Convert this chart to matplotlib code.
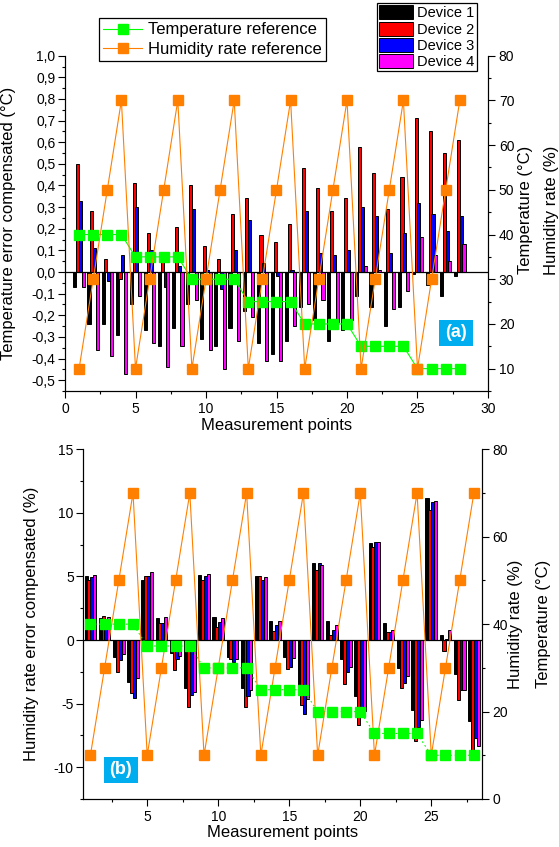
import numpy as np
import matplotlib
matplotlib.use("Agg")
import matplotlib.pyplot as plt
from matplotlib.patches import Rectangle, Patch
from matplotlib.lines import Line2D
from matplotlib.ticker import MultipleLocator, FuncFormatter

plt.rcParams['font.family'] = ['Liberation Sans', 'DejaVu Sans']

# measurement points 1..28
points = np.arange(1, 29)

temp_ref = [40, 40, 40, 40, 35, 35, 35, 35, 30, 30, 30, 30, 25, 25,
            25, 25, 20, 20, 20, 20, 15, 15, 15, 15, 10, 10, 10, 10]
hum_ref = [10, 30, 50, 70, 10, 30, 50, 70, 10, 30, 50, 70, 10, 30,
           50, 70, 10, 30, 50, 70, 10, 30, 50, 70, 10, 30, 50, 70]

# (a) temperature error compensated (degC)
dev1_a = [-0.07, -0.24, -0.24, -0.29, -0.15, -0.27, -0.34, -0.26, -0.15, -0.31,
          -0.34, -0.26, -0.18, -0.33, -0.38, -0.32, -0.16, -0.22, -0.32, -0.27,
          -0.11, -0.16, -0.25, -0.16, -0.01, -0.06, -0.11, -0.02]
dev2_a = [0.50, 0.28, 0.06, -0.03, 0.41, 0.18, 0.05, 0.21, 0.40, 0.12,
          0.06, 0.27, 0.34, 0.17, 0.14, 0.22, 0.48, 0.39, 0.28, 0.34,
          0.58, 0.46, 0.29, 0.44, 0.71, 0.65, 0.55, 0.61]
dev3_a = [0.33, 0.11, -0.04, 0.08, 0.30, 0.10, -0.07, 0.03, 0.29, 0.01,
          -0.08, 0.10, 0.24, 0.04, -0.02, 0.01, 0.28, 0.09, 0.08, 0.10,
          0.30, 0.26, 0.09, 0.18, 0.32, 0.27, 0.19, 0.26]
dev4_a = [-0.07, -0.36, -0.39, -0.47, -0.11, -0.33, -0.44, -0.34, -0.13, -0.36,
          -0.45, -0.32, -0.21, -0.41, -0.41, -0.25, -0.15, -0.13, -0.23, -0.22,
          0.03, 0.01, -0.17, -0.09, 0.16, 0.08, 0.05, 0.13]

# (b) humidity rate error compensated (%)
dev1_b = [5.0, 1.75, -1.3, -3.3, 4.7, 1.75, -1.0, -3.8, 5.1, 1.8,
          -1.3, -3.8, 5.05, 1.5, -1.3, -3.7, 6.05, 1.5, -1.5, -4.4,
          7.6, 1.35, -2.2, -5.5, 11.2, 0.4, -2.7, -6.35]
dev2_b = [4.7, 1.9, -2.5, -4.2, 5.05, 1.35, -2.35, -5.3, 4.7, 1.05,
          -1.5, -5.3, 5.0, 0.7, -2.3, -5.1, 5.5, 0.4, -3.45, -6.65,
          7.3, 0.6, -3.8, -7.9, 10.2, -0.85, -4.7, -8.7]
dev3_b = [4.95, 1.3, -1.6, -4.55, 5.05, 1.35, -1.5, -4.3, 5.05, 1.45,
          -1.7, -4.4, 4.75, 1.2, -2.1, -5.8, 6.05, 0.8, -2.5, -5.8,
          7.7, 0.65, -3.4, -6.8, 10.85, 0.05, -3.9, -7.7]
dev4_b = [5.1, 1.85, -1.1, -3.0, 5.35, 1.85, -1.25, -4.1, 5.2, 1.75,
          -1.5, -3.9, 4.95, 1.5, -1.4, -4.6, 5.9, 1.2, -2.1, -5.6,
          7.7, 0.8, -2.85, -6.3, 10.9, 0.8, -3.9, -8.3]

devices = ['Device 1', 'Device 2', 'Device 3', 'Device 4']
dev_colors = ['#000000', '#FF0000', '#0000FF', '#FF00FF']
green = '#00FF00'
orange = '#FF8000'
boxblue = '#00AEEF'

W, H = 559, 847
fig = plt.figure(figsize=(W / 100, H / 100), dpi=100)


def px_axes(l, r, t, b):
    return fig.add_axes([l / W, 1 - b / H, (r - l) / W, (b - t) / H])


def style_ticks(a):
    a.tick_params(which='major', direction='out', length=4.8, width=0.8,
                  labelsize=10, pad=2)
    a.tick_params(which='minor', direction='out', length=2.4, width=0.8)
    a.tick_params(axis='x', pad=3)


def draw_bars(a, series):
    offs = [-0.3, -0.1, 0.1, 0.3]
    for vals, c, o in zip(series, dev_colors, offs):
        a.bar(points + o, vals, width=0.22, color=c, edgecolor='black',
              linewidth=0.7, zorder=2)
    a.axhline(0, color='black', lw=0.9, zorder=3)


def comma(v, pos):
    s = '%.1f' % v
    return s.replace('.', ',')


def plain(v, pos):
    return '%d' % round(v)


# ---------------- panel (a) ----------------
ax = px_axes(65, 488, 55.7, 391)
draw_bars(ax, [dev1_a, dev2_a, dev3_a, dev4_a])
ax.set_xlim(0, 30)
ax.set_ylim(-0.55, 1.0)
ax.xaxis.set_major_locator(MultipleLocator(5))
ax.xaxis.set_minor_locator(MultipleLocator(2.5))
ax.yaxis.set_major_locator(MultipleLocator(0.1))
ax.yaxis.set_minor_locator(MultipleLocator(0.05))
ax.yaxis.set_major_formatter(FuncFormatter(comma))
ax.spines['top'].set_visible(False)
style_ticks(ax)
ax.set_ylabel('Temperature error compensated (°C)', fontsize=12)
ax.yaxis.set_label_coords(-0.116, 0.5)
ax.text(0.5, -0.104, 'Measurement points', transform=ax.transAxes,
        ha='center', va='center', fontsize=12)

axr = ax.twinx()
axr.plot(points, temp_ref, color=green, lw=0.8, marker='s', ms=7,
         mec=green, mfc=green, zorder=4)
axr.plot(points, hum_ref, color=orange, lw=0.8, marker='s', ms=7,
         mec=orange, mfc=orange, zorder=5)
axr.set_ylim(5, 80)
axr.yaxis.set_major_locator(MultipleLocator(10))
axr.yaxis.set_minor_locator(MultipleLocator(5))
axr.yaxis.set_major_formatter(FuncFormatter(plain))
axr.spines['top'].set_visible(False)
style_ticks(axr)
axr.tick_params(axis='y', pad=3)
axr.text(1.0875, 0.54, 'Temperature (°C)', transform=axr.transAxes,
         rotation=90, ha='center', va='center', fontsize=12)
axr.text(1.150, 0.54, 'Humidity rate (%)', transform=axr.transAxes,
         rotation=90, ha='center', va='center', fontsize=12)

# ---------------- panel (b) ----------------
bx = px_axes(83.3, 481.7, 449.3, 799)
draw_bars(bx, [dev1_b, dev2_b, dev3_b, dev4_b])
bx.set_xlim(0.5, 28.55)
bx.set_ylim(-12.5, 15)
bx.xaxis.set_major_locator(MultipleLocator(5))
bx.xaxis.set_minor_locator(MultipleLocator(2.5))
bx.yaxis.set_major_locator(MultipleLocator(5))
bx.yaxis.set_minor_locator(MultipleLocator(2.5))
bx.yaxis.set_major_formatter(FuncFormatter(plain))
bx.spines['top'].set_visible(False)
style_ticks(bx)
bx.set_ylabel('Humidity rate error compensated (%)', fontsize=12)
bx.yaxis.set_label_coords(-0.110, 0.5)
bx.text(0.5, -0.097, 'Measurement points', transform=bx.transAxes,
        ha='center', va='center', fontsize=12)

bxr = bx.twinx()
bxr.plot(points, hum_ref, color=orange, lw=0.8, marker='s', ms=7,
         mec=orange, mfc=orange, zorder=4)
bxr.plot(points, temp_ref, color=green, lw=0.8, ls=(0, (1.5, 2.5)),
         marker='s', ms=7, mec=green, mfc=green, zorder=5)
bxr.set_ylim(0, 80)
bxr.yaxis.set_major_locator(MultipleLocator(20))
bxr.yaxis.set_minor_locator(MultipleLocator(10))
bxr.yaxis.set_major_formatter(FuncFormatter(plain))
bxr.spines['top'].set_visible(False)
style_ticks(bxr)
bxr.tick_params(axis='y', pad=3)
bxr.text(1.086, 0.5, 'Humidity rate (%)', transform=bxr.transAxes,
         rotation=90, ha='center', va='center', fontsize=12)
bxr.text(1.154, 0.5, 'Temperature (°C)', transform=bxr.transAxes,
         rotation=90, ha='center', va='center', fontsize=12)

# ---------------- panel tags ----------------
for (l, t, w, h, lab) in [(439, 320, 33.7, 25.7, '(a)'),
                          (104, 756.7, 33.7, 26, '(b)')]:
    fig.add_artist(Rectangle((l / W, 1 - (t + h) / H), w / W, h / H,
                             transform=fig.transFigure, facecolor=boxblue,
                             edgecolor='none', zorder=10))
    fig.text((l + w / 2) / W, 1 - (t + h / 2) / H, lab, color='white',
             fontsize=13, fontweight='bold', ha='center', va='center',
             zorder=11)

# ---------------- legends ----------------
line_handles = [Line2D([], [], color=green, lw=0.8, marker='s', ms=7,
                       mec=green, mfc=green),
                Line2D([], [], color=orange, lw=0.8, marker='s', ms=7,
                       mec=orange, mfc=orange)]
leg1 = fig.legend(line_handles, ['Temperature reference', 'Humidity rate reference'],
                  loc='upper left', bbox_to_anchor=(99.3 / W, 1 - 18.3 / H),
                  bbox_transform=fig.transFigure, fontsize=12, frameon=True,
                  fancybox=False, edgecolor='black', framealpha=1,
                  handlelength=2.3, handletextpad=0.4, borderpad=0.25,
                  labelspacing=0.25, borderaxespad=0)
leg1.get_frame().set_linewidth(0.9)

bar_handles = [Patch(facecolor=c, edgecolor='black', linewidth=0.7) for c in dev_colors]
leg2 = fig.legend(bar_handles, devices, loc='upper left',
                  bbox_to_anchor=(377.3 / W, 1 - 3.3 / H),
                  bbox_transform=fig.transFigure, fontsize=10.5, frameon=True,
                  fancybox=False, edgecolor='black', framealpha=1,
                  handlelength=2.3, handleheight=1.1, handletextpad=0.3,
                  borderpad=0.15, labelspacing=0.08, borderaxespad=0)
leg2.get_frame().set_linewidth(0.9)

fig.savefig('out.png', dpi=100)
